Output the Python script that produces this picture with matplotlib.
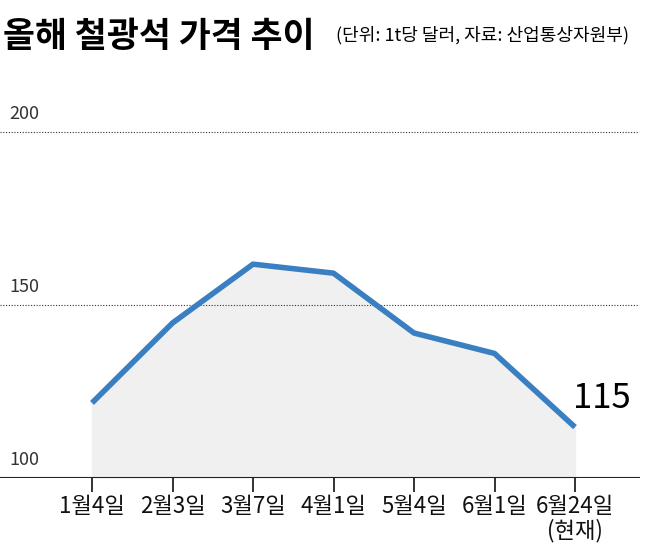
import matplotlib
matplotlib.use("Agg")
import matplotlib.pyplot as plt

plt.rcParams['font.family'] = ['Noto Sans CJK KR', 'DejaVu Sans']

dates = ["1월4일", "2월3일", "3월7일", "4월1일", "5월4일", "6월1일", "6월24일\n(현재)"]
prices = [121.7, 144.8, 161.8, 159.2, 141.9, 136.0, 114.7]
yticks = [100, 150, 200]

fig = plt.figure(figsize=(6.52, 5.51), dpi=100)
ax = fig.add_axes([0, 1 - 478 / 551, 1, 378 / 551])
x = list(range(len(dates)))
ax.set_xlim(-92 / 80.5, 6 + 77 / 80.5)
ax.set_ylim(100, 100 + 378 / 3.46)

ax.fill_between(x, prices, 100, color="#f0f0f0", zorder=1)
ax.plot(x, prices, color="#3a7fc1", lw=4, solid_capstyle="butt", zorder=3)

for v in yticks[1:]:
    ax.axhline(v, xmax=0.98, color="#333333", lw=0.8, ls=(0, (1, 1.5)), zorder=2)
for v in yticks:
    ax.text(-1.03, v + 2.5, str(v), fontsize=13, color="#333333", va="bottom")
ax.axhline(100, xmax=0.98, color="#222222", lw=1.5, zorder=4)

ax.set_xticks(x)
ax.set_xticklabels(dates, fontsize=16, linespacing=1.05, fontweight="medium")
ax.tick_params(axis="x", length=10, width=1.2, pad=2, colors="#111111")
ax.set_yticks([])
for s in ax.spines.values():
    s.set_visible(False)

ax.text(5.98, 118, "115", fontsize=25, fontweight="medium", ha="left", va="bottom")

fig.text(0.005, 0.965, "올해 철광석 가격 추이", fontsize=25, fontweight="black", va="top")
fig.text(0.515, 0.952, "(단위: 1t당 달러, 자료: 산업통상자원부)", fontsize=13, va="top")

fig.savefig("out.png", dpi=100)
